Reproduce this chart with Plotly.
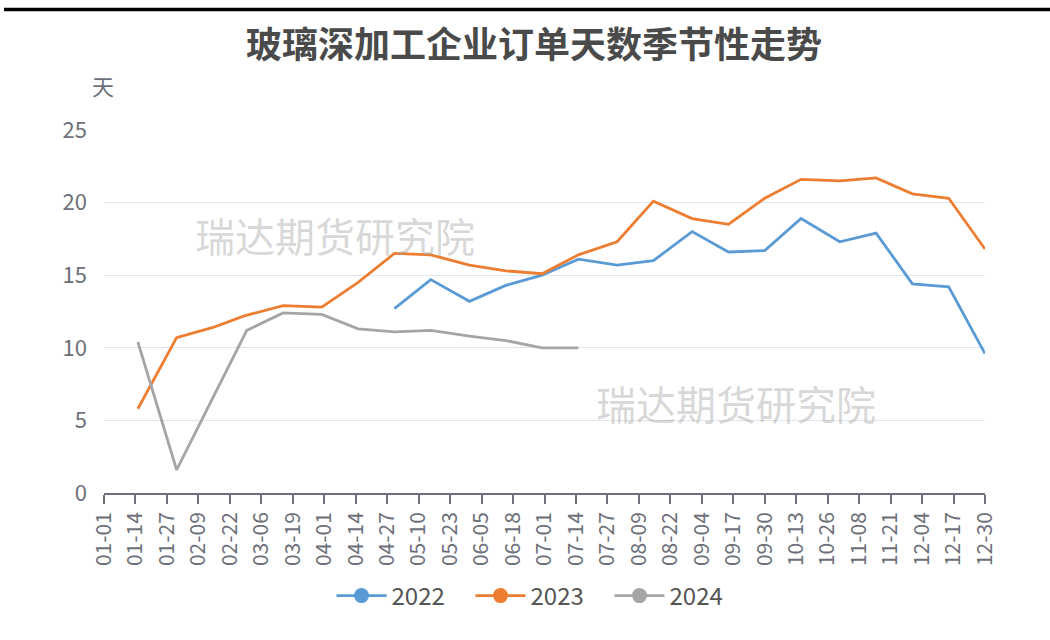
import plotly.graph_objects as go

# ---------------- data ----------------
title_text = "玻璃深加工企业订单天数季节性走势"
y_unit = "天"
watermark = "瑞达期货研究院"

tick_labels = ["01-01", "01-14", "01-27", "02-09", "02-22", "03-06", "03-19", "04-01",
               "04-14", "04-27", "05-10", "05-23", "06-05", "06-18", "07-01", "07-14",
               "07-27", "08-09", "08-22", "09-04", "09-17", "09-30", "10-13", "10-26",
               "11-08", "11-21", "12-04", "12-17", "12-30"]

dates_2022 = ["04-30", "05-15", "05-31", "06-15", "06-30", "07-15", "07-31", "08-15",
              "08-31", "09-15", "09-30", "10-15", "10-31", "11-15", "11-30", "12-15", "12-30"]
values_2022 = [12.7, 14.7, 13.2, 14.3, 15.0, 16.1, 15.7, 16.0,
               18.0, 16.6, 16.7, 18.9, 17.3, 17.9, 14.4, 14.2, 9.6]

dates_2023 = ["01-15", "01-31", "02-15", "02-28", "03-15", "03-31", "04-15", "04-30",
              "05-15", "05-31", "06-15", "06-30", "07-15", "07-31", "08-15", "08-31",
              "09-15", "09-30", "10-15", "10-31", "11-15", "11-30", "12-15", "12-30"]
values_2023 = [5.8, 10.7, 11.4, 12.2, 12.9, 12.8, 14.5, 16.5,
               16.4, 15.7, 15.3, 15.1, 16.4, 17.3, 20.1, 18.9,
               18.5, 20.3, 21.6, 21.5, 21.7, 20.6, 20.3, 16.8]

dates_2024 = ["01-15", "01-31", "02-29", "03-15", "03-31", "04-15", "04-30",
              "05-15", "05-31", "06-15", "06-30", "07-15"]
values_2024 = [10.4, 1.6, 11.2, 12.4, 12.3, 11.3, 11.1,
               11.2, 10.8, 10.5, 10.0, 10.0]

series = [("2022", dates_2022, values_2022, "#5b9bd5"),
          ("2023", dates_2023, values_2023, "#ed7d31"),
          ("2024", dates_2024, values_2024, "#a5a5a5")]

BASE_YEAR = "2024"  # leap-year axis so ticks fall every 13 days as labelled

# ---------------- layout geometry ----------------
W, H = 1050, 640
L, R, T, B = 104, 65, 130, 147
PW, PH = W - L - R, H - T - B


def px_x(px):
    return (px - L) / PW


def px_y(py):
    return (H - B - py) / PH


FONT = "Noto Sans CJK SC"
TXT = "#6e7079"

fig = go.Figure()

for name, d, v, c in series:
    fig.add_trace(go.Scatter(
        x=[f"{BASE_YEAR}-{s}" for s in d], y=v, name=name, mode="lines",
        line=dict(color=c, width=2.8), legendgroup=name, showlegend=False,
        hoverinfo="x+y+name"))
    # legend entry (line with circle marker, as in the reference)
    fig.add_trace(go.Scatter(
        x=[None], y=[None], name=name, mode="lines+markers",
        line=dict(color=c, width=2.8), marker=dict(color=c, size=15),
        legendgroup=name, showlegend=True))

fig.update_layout(
    width=W, height=H,
    margin=dict(l=L, r=R, t=T, b=B, autoexpand=False),
    paper_bgcolor="white", plot_bgcolor="white",
    font=dict(family=FONT, color=TXT, size=22),
    title=dict(text=f"<b>{title_text}</b>", x=534 / W, xref="container",
               y=1 - 45 / H, yref="container", xanchor="center", yanchor="middle",
               font=dict(family=FONT, size=36, color="#4a4a4a")),
    showlegend=True,
    legend=dict(orientation="h", x=px_x(540), xref="paper", xanchor="center",
                y=px_y(596), yanchor="middle",
                font=dict(family=FONT, size=24, color="#555555"),
                itemwidth=50, entrywidth=74, entrywidthmode="pixels"),
    xaxis=dict(
        type="date",
        range=[f"{BASE_YEAR}-01-01", f"{BASE_YEAR}-12-30"],
        tickmode="array",
        tickvals=[f"{BASE_YEAR}-{s}" for s in tick_labels],
        ticktext=tick_labels,
        tickangle=-90,
        ticks="outside", ticklen=9, tickcolor=TXT, tickwidth=1.5,
        showline=True, linecolor=TXT, linewidth=1.5,
        showgrid=False, zeroline=False,
        tickfont=dict(family=FONT, size=21, color=TXT),
        fixedrange=True,
    ),
    yaxis=dict(
        range=[0, 25], tickvals=[0, 5, 10, 15, 20, 25],
        showgrid=True, gridcolor="#e0e6f1", gridwidth=1,
        zeroline=False, showline=False, ticks="",
        ticklabelstandoff=16,
        tickfont=dict(family=FONT, size=22, color=TXT),
        fixedrange=True,
    ),
)

# top border line
fig.add_shape(type="line", xref="paper", yref="paper",
              x0=px_x(4), x1=px_x(1050), y0=px_y(9.5), y1=px_y(9.5),
              line=dict(color="black", width=3.5))

# unit label
fig.add_annotation(text=y_unit, xref="paper", yref="paper", x=px_x(103), y=px_y(85),
                   xanchor="center", yanchor="middle", showarrow=False,
                   font=dict(family=FONT, size=22, color=TXT))

# watermarks
for cx, cy in [(335, 235), (736, 403)]:
    fig.add_annotation(text=watermark, xref="paper", yref="paper", x=px_x(cx), y=px_y(cy),
                       xanchor="center", yanchor="middle", showarrow=False,
                       font=dict(family=FONT, size=40, color="rgba(160,160,160,0.42)"))

fig.write_html("out.html")
